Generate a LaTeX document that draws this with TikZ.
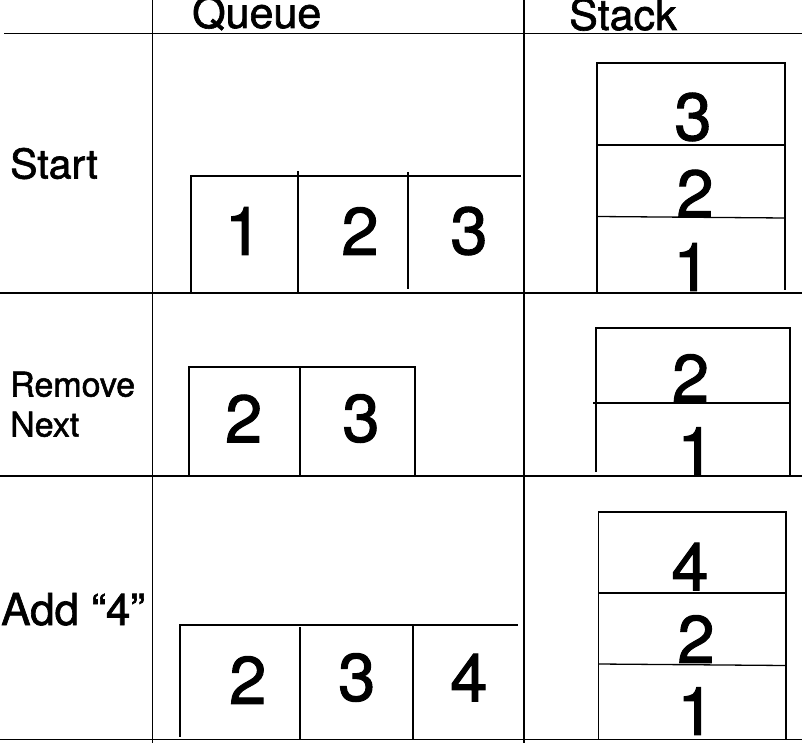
\documentclass[tikz,border=0pt]{standalone}
\usepackage{fontspec}
\setmainfont{TeX Gyre Heros}[FakeBold=1.5]
\begin{document}
\begin{tikzpicture}[x=1pt,y=-1pt,
  grid/.style={line width=1.6pt,black},
  box/.style={line width=1.3pt,black},
  digit/.style={inner sep=0pt,anchor=center,font=\fontsize{67}{67}\selectfont},
  head/.style={inner sep=0pt,anchor=base west,font=\fontsize{43}{43}\selectfont},
  rowlab/.style={inner sep=0pt,anchor=base west,font=\fontsize{41}{41}\selectfont},
  smalllab/.style={inner sep=0pt,anchor=base west,font=\fontsize{33}{33}\selectfont}]
\useasboundingbox (0,0) rectangle (802,743);
\fill[white] (0,0) rectangle (802,743);
% grid
\draw[grid] (152.5,0) -- (152.5,743);
\draw[grid] (524,0) -- (524,743);
\draw[grid] (4,33.5) -- (802,33.5);
\draw[grid] (0,293) -- (802,293);
\draw[grid] (0,476) -- (802,476);
\draw[grid] (0,739.5) -- (802,739.5);
% headers
\node[head] (hq) at (192,28) {Queue};
\node[head] (hs) at (569,30) {Stack};
% row labels
\node[rowlab] (lstart) at (10,178.5) {Start};
\node[smalllab,font=\fontsize{34}{34}\selectfont] (lrem) at (10,396.5) {Remove};
\node[smalllab,font=\fontsize{34}{34}\selectfont] (lnext) at (10,436.5) {Next};
\node[rowlab,font=\fontsize{44}{44}\selectfont] (ladd) at (1,625) {Add “4”};
% ---- Start: queue
\draw[box] (191,293) -- (191,176) -- (521,176);
\draw[box] (298,171) -- (298,293);
\draw[box] (408,172) -- (408,289);
\node[digit] (q11) at (243.5,231) {1};
\node[digit] (q12) at (360,231) {2};
\node[digit] (q13) at (469,231) {3};
% ---- Start: stack
\draw[box] (597,293) -- (597,63) -- (785,63) -- (785,290);
\draw[box] (597,145) -- (785,145);
\draw[box] (597,216.5) -- (785,218);
\node[digit] (s13) at (693,117) {3};
\node[digit] (s12) at (695,193.5) {2};
\node[digit] (s11) at (692,267) {1};
% ---- Remove Next: queue
\draw[box] (189,476) -- (189,367) -- (415,367) -- (415,476);
\draw[box] (300,367) -- (300,476);
\node[digit] (q22) at (243.7,418.5) {2};
\node[digit] (q23) at (361,418.5) {3};
% ---- Remove Next: stack
\draw[box] (596,472) -- (596,328) -- (790,328) -- (790,476);
\draw[box] (593,403) -- (790,403);
\node[digit] (s22) at (690.5,378) {2};
\node[digit] (s21) at (696,451) {1};
% ---- Add 4: queue
\draw[box] (180,737) -- (180,625) -- (518,625);
\draw[box] (300,627) -- (300,739.5);
\draw[box] (413,625) -- (413,739.5);
\node[digit] (q32) at (247.8,680) {2};
\node[digit] (q33) at (356.8,677.5) {3};
\node[digit] (q34) at (468.8,677.5) {4};
% ---- Add 4: stack
\draw[box] (598.5,739.5) -- (598.5,512) -- (786,512) -- (786,739.5);
\draw[box] (598.5,593) -- (786,593);
\draw[box] (598.5,664) -- (786,665.5);
\node[digit] (s34) at (690,566.5) {4};
\node[digit] (s32) at (696,639) {2};
\node[digit] (s31) at (696,711) {1};
\end{tikzpicture}
\end{document}
